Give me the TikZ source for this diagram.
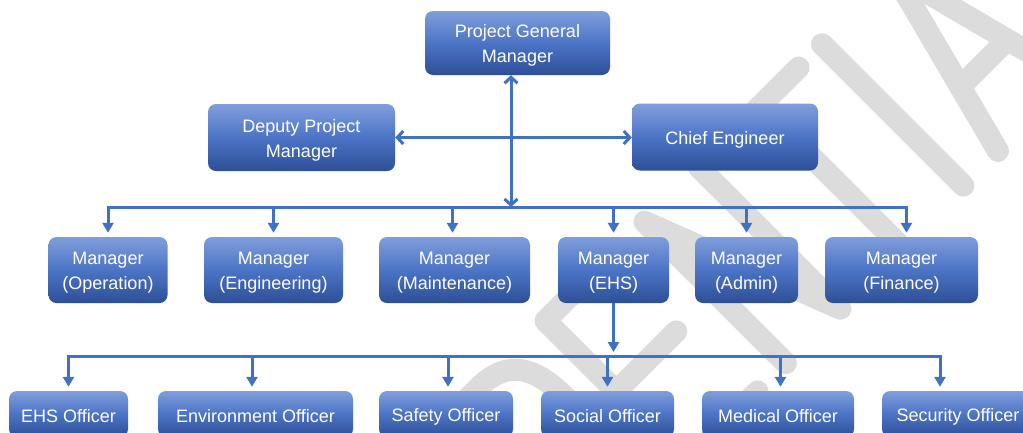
\documentclass[tikz,border=0pt]{standalone}
\usepackage{fontspec}
\setmainfont{Liberation Sans}
\usetikzlibrary{arrows.meta}
\definecolor{linkblue}{RGB}{65,113,194}
\definecolor{boxtop}{RGB}{128,158,220}
\definecolor{boxmid}{RGB}{76,116,198}
\definecolor{boxbot}{RGB}{45,79,150}
\definecolor{wmgray}{RGB}{220,220,220}

\begin{document}
\begin{tikzpicture}[x=1pt,y=-1pt,
  box/.style={rectangle, rounded corners=8pt, top color=boxtop, bottom color=boxbot,
    middle color=boxmid, inner sep=0pt},
  lbl/.style={text=white, align=center, inner sep=0pt, yshift=-2.5pt,
    font=\fontsize{18}{25}\selectfont},
  txt/.style={label={[lbl]center:{#1}}},
  conn/.style={draw=linkblue, line width=3pt},
  tri/.style={-{Triangle[width=11pt,length=10pt]}, shorten >=4pt},
  tritwo/.style={{Triangle[width=11pt,length=10pt]}-{Triangle[width=11pt,length=10pt]},
    shorten <=4pt, shorten >=4pt},
  barb/.style={{Straight Barb[width=13pt,length=6pt]}-{Straight Barb[width=13pt,length=6pt]}},
  wm/.style={draw=wmgray, line width=22pt, line cap=round, line join=round}]

\useasboundingbox (0,0) rectangle (1023,432);
\clip (0,0) rectangle (1023,432);
\fill[white] (0,0) rectangle (1023,432);

% diagonal stroke-letter watermark in the background (baseline frame)
\begin{scope}[shift={(998,151)}, x={(0.7071pt,0.7071pt)}, y={(-0.7071pt,0.7071pt)}]
  % A
  \draw[wm] (0,0) -- (52,200) -- (104,0);
  \draw[wm] (19,72) -- (85,72);
  % I
  \draw[wm] (-49,0) -- (-49,200);
  % T
  \draw[wm] (-190,200) -- (-82,200);
  \draw[wm] (-136,200) -- (-136,0);
  % N
  \draw[wm] (-300,0) -- (-300,200) -- (-223,0) -- (-223,200);
  % E
  \draw[wm] (-340,200) -- (-440,200) -- (-440,0) -- (-340,0);
  \draw[wm] (-440,100) -- (-355,100);
  % D
  \draw[wm] (-570,0) -- (-570,200) -- (-535,200)
    .. controls (-490,200) and (-480,170) .. (-480,130) -- (-480,70)
    .. controls (-480,30) and (-490,0) .. (-535,0) -- cycle;
\end{scope}

% top management
\node[box, minimum width=185pt, minimum height=64pt, txt={Project General\\Manager}] (pgm) at (517.5,43) {};
\node[box, minimum width=187pt, minimum height=67pt, txt={Deputy Project\\Manager}] (dpm) at (301.5,137.5) {};
\node[box, minimum width=186pt, minimum height=67pt, txt={Chief Engineer}] (ce) at (725,137) {};

% department managers
\node[box, minimum width=119pt, minimum height=66pt, txt={Manager\\(Operation)}]   (op)  at (108,270)   {};
\node[box, minimum width=139pt, minimum height=66pt, txt={Manager\\(Engineering)}] (eng) at (273.5,270) {};
\node[box, minimum width=151pt, minimum height=66pt, txt={Manager\\(Maintenance)}] (mnt) at (454.5,270) {};
\node[box, minimum width=111pt, minimum height=66pt, txt={Manager\\(EHS)}]         (ehs) at (613.5,270) {};
\node[box, minimum width=103pt, minimum height=66pt, txt={Manager\\(Admin)}]       (adm) at (746.5,270) {};
\node[box, minimum width=153pt, minimum height=66pt, txt={Manager\\(Finance)}]     (fin) at (901.5,270) {};

% EHS officers
\node[box, minimum width=119pt, minimum height=46pt, txt={EHS Officer}]         (eo)  at (68.5,414)  {};
\node[box, minimum width=195pt, minimum height=46pt, txt={Environment Officer}] (env) at (255.5,414) {};
\node[box, minimum width=134pt, minimum height=46pt, txt={Safety Officer}]      (saf) at (446,414)   {};
\node[box, minimum width=133pt, minimum height=46pt, txt={Social Officer}]      (soc) at (607.5,414) {};
\node[box, minimum width=152pt, minimum height=46pt, txt={Medical Officer}]     (med) at (778,414)   {};
\node[box, minimum width=152pt, minimum height=46pt, txt={Security Officer}]    (sec) at (958,414)   {};

% junction points on the two distribution bars
\coordinate (hub) at (511,207);
\coordinate (sub) at (609,356);
\coordinate (finIn) at ([xshift=5pt]fin.north);
\coordinate (mntIn) at ([xshift=-2pt]mnt.north);
\coordinate (envIn) at ([xshift=-3.5pt]env.north);
\coordinate (safIn) at ([xshift=2pt]saf.north);
\coordinate (medIn) at ([xshift=2.5pt]med.north);
\coordinate (secIn) at ([xshift=-18pt]sec.north);

% upper links
\draw[conn, barb] (hub |- pgm.south) -- (hub);
\draw[conn, barb] (dpm.east) -- (dpm.east -| ce.west);

% manager distribution bar
\draw[conn, tritwo] (op.north) -- (op.north |- hub) -- (finIn |- hub) -- (finIn);
\draw[conn, tri] (eng.north |- hub) -- (eng.north);
\draw[conn, tri] (mntIn |- hub) -- (mntIn);
\draw[conn, tri] (ehs.north |- hub) -- (ehs.north);
\draw[conn, tri] (adm.north |- hub) -- (adm.north);

% EHS branch
\draw[conn, tri] (ehs.south) -- (ehs.south |- sub);
\draw[conn, tritwo] (eo.north) -- (eo.north |- sub) -- (secIn |- sub) -- (secIn);
\draw[conn, tri] (envIn |- sub) -- (envIn);
\draw[conn, tri] (safIn |- sub) -- (safIn);
\draw[conn, tri] (soc.north |- sub) -- (soc.north);
\draw[conn, tri] (medIn |- sub) -- (medIn);
\end{tikzpicture}
\end{document}
